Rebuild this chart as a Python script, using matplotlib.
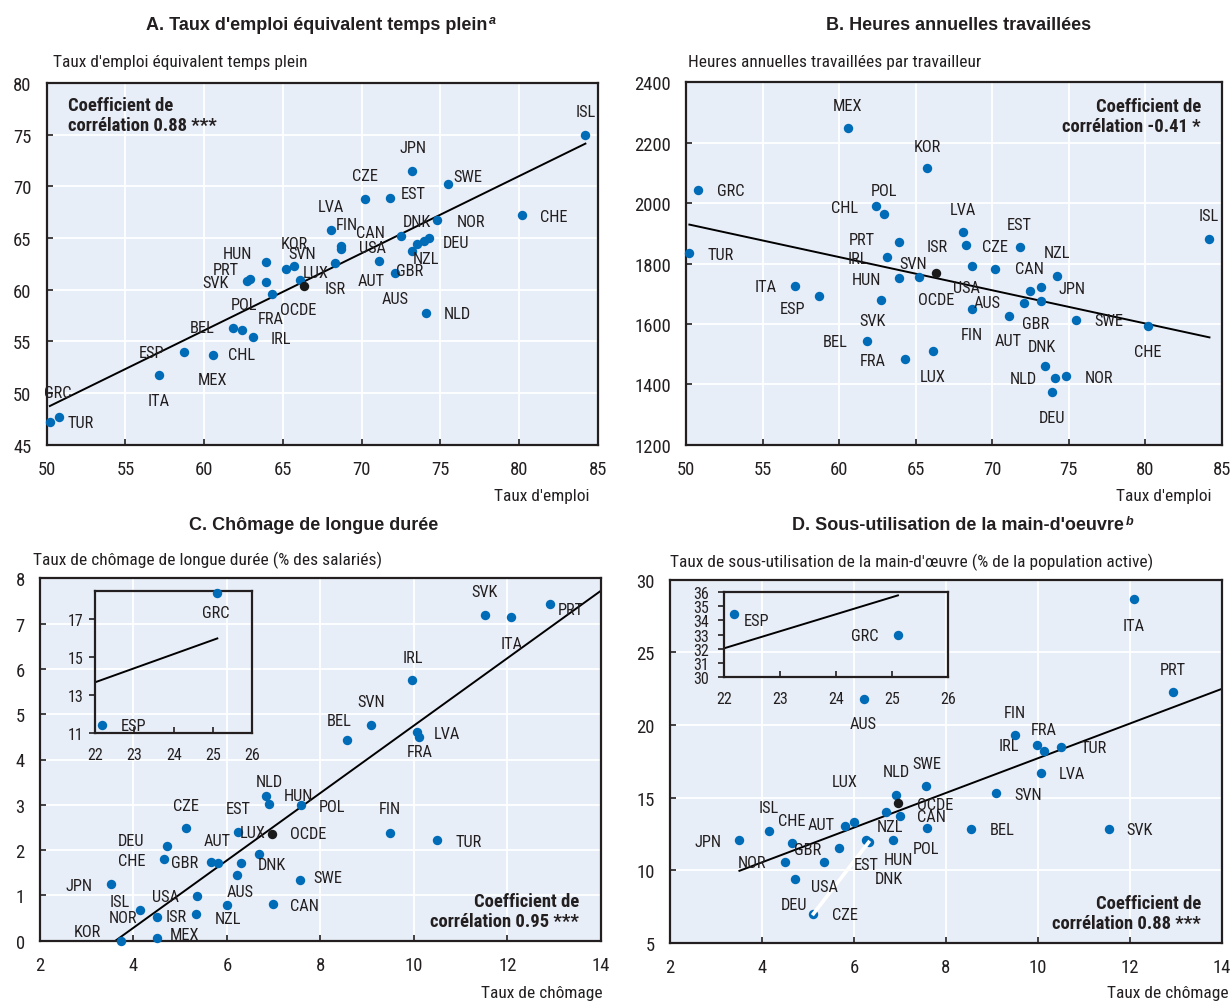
import matplotlib
matplotlib.use('Agg')
import matplotlib.pyplot as plt
import matplotlib.font_manager as fm
import numpy as np

# --- A / B : taux d'emploi (x), emploi ETP (A) et heures (B) ---
codes_ab = ['TUR', 'GRC', 'ITA', 'ESP', 'MEX', 'BEL', 'CHL', 'SVK', 'POL', 'IRL',
            'HUN', 'PRT', 'FRA', 'SVN', 'KOR', 'LUX', 'LVA', 'ISR', 'FIN', 'USA',
            'CZE', 'AUT', 'EST', 'GBR', 'CAN', 'AUS', 'JPN', 'DNK', 'DEU', 'NLD',
            'NZL', 'NOR', 'SWE', 'CHE', 'ISL']
emploi = [50.2, 50.75, 57.1, 58.7, 60.55, 61.8, 62.4, 62.7, 62.9, 63.1,
          63.9, 63.9, 64.3, 65.2, 65.72, 66.1, 68.06, 68.3, 68.68, 68.7,
          70.2, 71.08, 71.8, 72.1, 72.5, 73.2, 73.22, 73.48, 73.93, 74.1,
          74.24, 74.8, 75.5, 80.18, 84.2]
emploi_etp = [47.2, 47.7, 51.7, 54.0, 53.7, 56.3, 56.1, 60.8, 61.0, 55.4,
              62.7, 60.7, 59.6, 62.0, 62.3, 60.9, 65.8, 62.55, 64.25, 63.9,
              68.8, 62.8, 68.9, 61.6, 65.2, 63.7, 71.5, 64.4, 64.7, 57.7,
              65.0, 66.7, 70.2, 67.2, 75.0]
heures = [1835, 2043, 1726, 1693, 2249, 1543, 1990, 1679, 1965, 1821,
          1751, 1870, 1484, 1755, 2115, 1509, 1905, 1861, 1649, 1793,
          1782, 1627, 1853, 1668, 1710, 1676, 1721, 1460, 1373, 1422,
          1759, 1426, 1614, 1594, 1881]
ocde_emploi, ocde_etp, ocde_heures = 66.35, 60.4, 1767

# --- C : taux de chômage (x) et chômage de longue durée (y) ---
codes_c = ['JPN', 'KOR', 'ISL', 'NOR', 'MEX', 'CHE', 'DEU', 'CZE', 'ISR', 'USA',
           'GBR', 'AUT', 'NZL', 'AUS', 'EST', 'LUX', 'DNK', 'HUN', 'NLD', 'CAN',
           'SWE', 'POL', 'BEL', 'SVN', 'FIN', 'IRL', 'LVA', 'FRA', 'TUR', 'SVK',
           'ITA', 'PRT', 'ESP', 'GRC']
chomage_c = [3.51, 3.73, 4.15, 4.5, 4.51, 4.65, 4.71, 5.12, 5.33, 5.36,
             5.66, 5.82, 6.0, 6.21, 6.24, 6.3, 6.69, 6.83, 6.91, 6.98,
             7.57, 7.58, 8.56, 9.09, 9.5, 9.97, 10.06, 10.11, 10.49, 11.52,
             12.09, 12.92, 22.19, 25.11]
longue_duree = [1.25, 0.0, 0.68, 0.53, 0.05, 1.8, 2.08, 2.48, 0.6, 0.99,
                1.74, 1.71, 0.79, 1.46, 2.41, 1.71, 1.91, 3.2, 3.02, 0.81,
                1.33, 3.0, 4.44, 4.77, 2.38, 5.76, 4.6, 4.49, 2.22, 7.2,
                7.14, 7.43, 11.42, 18.4]
ocde_chomage_c, ocde_ld = 6.97, 2.36

# --- D : taux de chômage (x) et sous-utilisation (y) ---
codes_d = ['JPN', 'ISL', 'NOR', 'CHE', 'DEU', 'CZE', 'USA', 'GBR', 'AUT', 'LUX',
           'AUS', 'EST', 'DNK', 'NZL', 'HUN', 'NLD', 'CAN', 'SWE', 'POL', 'BEL',
           'SVN', 'FIN', 'IRL', 'LVA', 'FRA', 'TUR', 'SVK', 'ITA', 'PRT', 'ESP',
           'GRC']
chomage_d = [3.51, 4.15, 4.51, 4.66, 4.71, 5.12, 5.36, 5.67, 5.81, 6.0,
             6.22, 6.26, 6.32, 6.7, 6.84, 6.92, 7.0, 7.57, 7.59, 8.55,
             9.1, 9.51, 9.99, 10.08, 10.13, 10.51, 11.54, 12.1, 12.94, 22.17,
             25.11]
sous_util = [12.06, 12.73, 10.57, 11.9, 9.42, 7.01, 10.59, 11.53, 13.07, 13.3,
             21.81, 12.1, 11.93, 13.99, 12.11, 15.2, 13.76, 15.8, 12.93, 12.84,
             15.34, 19.33, 18.64, 16.72, 18.19, 18.49, 12.84, 28.67, 22.25, 34.46,
             32.97]
ocde_chomage_d, ocde_su = 6.97, 14.63

# label placement (data coordinates of each label centre)
lab_a = {'GRC': (50.67, 50.06), 'TUR': (52.18, 47.15), 'ITA': (57.09, 49.25),
         'ESP': (56.67, 53.93), 'MEX': (60.54, 51.28), 'CHL': (62.38, 53.74),
         'BEL': (59.84, 56.31), 'IRL': (64.86, 55.29), 'FRA': (64.22, 57.22),
         'POL': (62.55, 58.61), 'SVK': (60.71, 60.71), 'PRT': (61.38, 61.93),
         'HUN': (62.13, 63.51), 'KOR': (65.70, 64.48), 'SVN': (66.19, 63.48),
         'LUX': (67.09, 61.67), 'ISR': (68.29, 60.13), 'LVA': (68.05, 68.06),
         'FIN': (69.05, 66.35), 'CAN': (70.57, 65.55), 'USA': (70.70, 64.1),
         'AUT': (70.57, 60.9), 'AUS': (72.11, 59.16), 'GBR': (73.02, 61.9),
         'NZL': (74.08, 63.06), 'DEU': (75.99, 64.58), 'NOR': (76.92, 66.61),
         'DNK': (73.49, 66.61), 'CZE': (70.21, 71.03), 'EST': (73.28, 69.35),
         'JPN': (73.24, 73.78), 'SWE': (76.77, 70.97), 'CHE': (82.21, 67.1),
         'NLD': (76.07, 57.67), 'ISL': (84.2, 77.22), 'OCDE': (65.94, 58.05)}
lab_b = {'MEX': (60.55, 2322), 'KOR': (65.73, 2188), 'GRC': (52.9, 2041),
         'POL': (62.9, 2041), 'CHL': (60.37, 1985), 'PRT': (61.46, 1881),
         'TUR': (52.27, 1830), 'IRL': (61.24, 1818), 'SVN': (64.82, 1799),
         'HUN': (61.79, 1746), 'ITA': (55.21, 1723), 'ESP': (56.95, 1651),
         'SVK': (62.18, 1611), 'BEL': (59.76, 1541), 'FRA': (62.18, 1480),
         'ISR': (66.37, 1855), 'OCDE': (66.34, 1682), 'LUX': (66.1, 1425),
         'LVA': (68.07, 1980), 'USA': (68.33, 1720), 'AUS': (69.67, 1671),
         'FIN': (68.69, 1564), 'CZE': (70.18, 1855), 'EST': (71.79, 1928),
         'NZL': (74.23, 1837), 'CAN': (72.46, 1784), 'JPN': (75.23, 1718),
         'GBR': (72.84, 1600), 'AUT': (71.07, 1544), 'DNK': (73.27, 1526),
         'NLD': (72.03, 1420), 'NOR': (76.97, 1423), 'DEU': (73.92, 1290),
         'SWE': (77.65, 1610), 'CHE': (80.16, 1508), 'ISL': (84.18, 1958)}
lab_c = {'KOR': (3.01, 0.2), 'MEX': (5.1, 0.13), 'JPN': (2.84, 1.21),
         'ISL': (3.7, 0.86), 'NOR': (3.78, 0.52), 'USA': (4.68, 0.98),
         'ISR': (4.91, 0.53), 'NZL': (6.02, 0.48), 'CHE': (3.96, 1.77),
         'DEU': (3.94, 2.21), 'CZE': (5.12, 2.98), 'GBR': (5.1, 1.73),
         'AUT': (5.8, 2.21), 'AUS': (6.28, 1.09), 'EST': (6.25, 2.91),
         'LUX': (6.55, 2.39), 'DNK': (6.97, 1.69), 'NLD': (6.91, 3.51),
         'HUN': (7.53, 3.2), 'OCDE': (7.75, 2.36), 'CAN': (7.67, 0.77),
         'POL': (8.26, 2.96), 'SWE': (8.16, 1.4), 'FIN': (9.49, 2.91),
         'TUR': (11.17, 2.19), 'LVA': (10.71, 4.58), 'FRA': (10.12, 4.18),
         'BEL': (8.4, 4.86), 'SVN': (9.09, 5.29), 'IRL': (9.97, 6.26),
         'SVK': (11.52, 7.71), 'ITA': (12.09, 6.57), 'PRT': (13.36, 7.31),
         'ESP': (22.98, 11.4), 'GRC': (25.07, 17.37)}
lab_d = {'JPN': (2.83, 11.97), 'ISL': (4.15, 14.34), 'CHE': (4.65, 13.41),
         'AUT': (5.28, 13.14), 'NOR': (3.78, 10.55), 'GBR': (4.99, 11.42),
         'USA': (5.36, 8.87), 'DEU': (4.7, 7.68), 'CZE': (5.8, 6.94),
         'EST': (6.26, 10.43), 'LUX': (5.81, 16.1), 'NLD': (6.92, 16.81),
         'NZL': (6.78, 13.03), 'HUN': (6.96, 10.73), 'DNK': (6.77, 9.45),
         'AUS': (6.21, 20.12), 'SWE': (7.58, 17.32), 'OCDE': (7.77, 14.56),
         'CAN': (7.69, 13.72), 'POL': (7.56, 11.51), 'BEL': (9.23, 12.79),
         'SVN': (9.79, 15.25), 'FIN': (9.51, 20.87), 'IRL': (9.37, 18.58),
         'FRA': (10.12, 19.72), 'TUR': (11.22, 18.44), 'LVA': (10.74, 16.63),
         'ITA': (12.09, 26.88), 'PRT': (12.94, 23.81), 'SVK': (12.22, 12.79),
         'ESP': (22.58, 33.97), 'GRC': (24.52, 32.92)}

W, H = 1231, 1004
BLUE = '#006bb6'
BG = '#e8eef8'
INK = '#231f20'

# pick a narrow sans for the body text, falling back to condensed variants
fonts = fm.fontManager.ttflist
names = {f.name for f in fonts}
NARROW, STRETCH = 'Liberation Sans', 'normal'
for nm in ['Liberation Sans Narrow', 'Arial Narrow', 'Roboto Condensed',
           'Open Sans Condensed', 'Noto Sans Condensed', 'DejaVu Sans Condensed']:
    if nm in names:
        NARROW = nm
        break
else:
    for fam in ['Liberation Sans', 'Roboto', 'Noto Sans', 'Open Sans', 'DejaVu Sans']:
        st = [f.stretch for f in fonts if f.name == fam
              and str(f.stretch) in ('condensed', 'semi-condensed', 'extra-condensed', '500', '600', '700')]
        if st:
            NARROW, STRETCH = fam, st[0]
            break
WIDE = 'Liberation Sans'
plt.rcParams['font.family'] = [NARROW, 'DejaVu Sans']
plt.rcParams['font.stretch'] = STRETCH
SCALE = 1.0 if NARROW != 'Liberation Sans' or STRETCH != 'normal' else 0.86

fig = plt.figure(figsize=(W / 100, H / 100), dpi=100)


def px_axes(l, t, r, b):
    return fig.add_axes([l / W, 1 - b / H, (r - l) / W, (b - t) / H])


def ftext(px, py, s, **kw):
    return fig.text(px / W, 1 - py / H, s, **kw)


def style(ax, xlim, ylim, xticks, yticks):
    ax.set_facecolor(BG)
    ax.set_xlim(xlim)
    ax.set_ylim(ylim)
    ax.set_xticks(xticks)
    ax.set_yticks(yticks)
    ax.grid(True, color='white', lw=1.3)
    ax.set_axisbelow(True)
    for sp in ax.spines.values():
        sp.set_linewidth(1.6)
        sp.set_color(INK)
    ax.tick_params(direction='in', length=4, width=1.2, pad=11,
                   labelsize=13.4 * SCALE, colors=INK)


def draw(ax, x, y, codes, labels, ox, oy, xmax=None):
    x = np.asarray(x, float)
    y = np.asarray(y, float)
    coef = np.polyfit(x, y, 1)
    xs = np.array([x.min(), x.max()])
    ax.plot(xs, np.polyval(coef, xs), color='black', lw=1.4, zorder=2.5)
    keep = np.ones(len(x), bool) if xmax is None else x <= xmax
    ax.scatter(x[keep], y[keep], s=46, color=BLUE, linewidths=0, zorder=3,
               clip_on=False)
    ax.scatter([ox], [oy], s=46, color='#1a1a1a', linewidths=0, zorder=3.2)
    for c in list(codes[keep]) + ['OCDE']:
        if c in labels:
            lx, ly = labels[c]
            ax.text(lx, ly, c, ha='center', va='center', fontsize=11.8 * SCALE,
                    color=INK, zorder=4)
    return coef


def inset(box, x, y, codes, labels, coef, ylim, yticks, ypad):
    ins = px_axes(*box)
    ins.patch.set_alpha(0)
    ins.set_xlim(22, 26)
    ins.set_ylim(ylim)
    ins.set_xticks([22, 23, 24, 25, 26])
    ins.set_yticks(yticks)
    for sp in ins.spines.values():
        sp.set_linewidth(1.6)
        sp.set_color(INK)
    ins.tick_params(axis='x', direction='in', length=4, width=1.2, pad=10,
                    labelsize=11.5 * SCALE, colors=INK)
    ins.tick_params(axis='y', direction='out', length=4, width=1.2, pad=ypad,
                    labelsize=11.5 * SCALE, colors=INK)
    x = np.asarray(x, float)
    y = np.asarray(y, float)
    far = x > 20
    xs = np.array([x.min(), x.max()])
    ins.plot(xs, np.polyval(coef, xs), color='black', lw=1.4)
    ins.scatter(x[far], y[far], s=46, color=BLUE, linewidths=0, zorder=3,
                clip_on=False)
    for c in np.asarray(codes)[far]:
        lx, ly = labels[c]
        ins.text(lx, ly, c, ha='center', va='center', fontsize=11.8 * SCALE,
                 color=INK)
    return ins


# Panel A
ax_a = px_axes(46.7, 84, 598, 445.7)
style(ax_a, (50, 85), (45, 80), range(50, 86, 5), range(45, 81, 5))
draw(ax_a, emploi, emploi_etp, np.array(codes_ab), lab_a, ocde_emploi, ocde_etp)

# Panel B
ax_b = px_axes(686.3, 83.3, 1221.7, 445.7)
style(ax_b, (50, 85), (1200, 2400), range(50, 86, 5), range(1200, 2401, 200))
draw(ax_b, emploi, heures, np.array(codes_ab), lab_b, ocde_emploi, ocde_heures)

# Panel C
ax_c = px_axes(40, 579.3, 600.7, 941.7)
style(ax_c, (2, 14), (0, 8), range(2, 15, 2), range(0, 9))
coef_c = draw(ax_c, chomage_c, longue_duree, np.array(codes_c), lab_c,
              ocde_chomage_c, ocde_ld, xmax=14)
inset((95, 591.7, 252.3, 734), chomage_c, longue_duree, codes_c, lab_c,
      coef_c, (11, 18.5), [11, 13, 15, 17], 4)

# Panel D
ax_d = px_axes(670, 580.7, 1221.7, 944)
style(ax_d, (2, 14), (5, 30), range(2, 15, 2), range(5, 31, 5))
coef_d = draw(ax_d, chomage_d, sous_util, np.array(codes_d), lab_d,
              ocde_chomage_d, ocde_su, xmax=14)
i_cze, i_dnk = codes_d.index('CZE'), codes_d.index('DNK')
ax_d.plot([chomage_d[i_cze], chomage_d[i_dnk]], [sous_util[i_cze], sous_util[i_dnk]],
          color='white', lw=2.6, zorder=3.5)
inset((724, 592.7, 947.7, 678.3), chomage_d, sous_util, codes_d, lab_d,
      coef_d, (30, 36), range(30, 37), 7)

# titles
titles = [(317, 25, "A. Taux d'emploi équivalent temps plein", 'a'),
          (959, 25, 'B. Heures annuelles travaillées', None),
          (314, 526, 'C. Chômage de longue durée', None),
          (958, 526, "D. Sous-utilisation de la main-d'oeuvre", 'b')]
for px, py, s, note in titles:
    t = ftext(px, py, s, ha='center', va='center', fontsize=13, fontweight='bold',
              family=WIDE, fontstretch='normal', color=INK)
    if note:
        ax_a.annotate(note, xy=(1, 1), xycoords=t, xytext=(1, 1),
                      textcoords='offset points', ha='left', va='top',
                      fontsize=9, fontstyle='italic', fontweight='bold',
                      family=WIDE, fontstretch='normal', color=INK)

# axis captions
cap = dict(fontsize=12.5 * SCALE, color=INK)
ftext(53, 63, "Taux d'emploi équivalent temps plein", ha='left', va='center', **cap)
ftext(688, 63, 'Heures annuelles travaillées par travailleur', ha='left',
      va='center', **cap)
ftext(33, 560, 'Taux de chômage de longue durée (% des salariés)', ha='left',
      va='center', **cap)
ftext(670, 562, "Taux de sous-utilisation de la main-d'œuvre (% de la population active)",
      ha='left', va='center', **cap)
ftext(590, 497, "Taux d'emploi", ha='right', va='center', **cap)
ftext(1212, 497, "Taux d'emploi", ha='right', va='center', **cap)
ftext(603, 994, 'Taux de chômage', ha='right', va='center', **cap)
ftext(1229, 994, 'Taux de chômage', ha='right', va='center', **cap)

# correlation notes
corr_kw = dict(fontsize=13.4 * SCALE, fontweight='bold', color=INK, linespacing=1.15)
ftext(68, 97, 'Coefficient de\ncorrélation 0.88 ***', ha='left', va='top',
      multialignment='left', **corr_kw)
ftext(1201, 98, 'Coefficient de\ncorrélation -0.41 *', ha='right', va='top',
      multialignment='right', **corr_kw)
ftext(579, 931, 'Coefficient de\ncorrélation 0.95 ***', ha='right', va='bottom',
      multialignment='right', **corr_kw)
ftext(1201, 933, 'Coefficient de\ncorrélation 0.88 ***', ha='right', va='bottom',
      multialignment='right', **corr_kw)

fig.savefig('out.png', dpi=100, facecolor='white')
